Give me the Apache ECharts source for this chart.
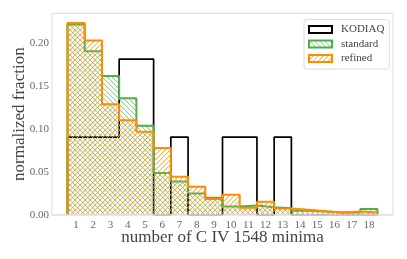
<!DOCTYPE html>
<html><head><meta charset="utf-8">
<script src="https://cdn.jsdelivr.net/npm/echarts@6/dist/echarts.min.js"></script>
<style>html,body{margin:0;padding:0;background:#fff}#c{width:407px;height:259px}</style>
</head><body><div id="c"></div>
<script>
// ---- data ----
const bins = [1,2,3,4,5,6,7,8,9,10,11,12,13,14,15,16,17,18];
const kodiaq   = [0.0909,0.0909,0.0909,0.1818,0.1818,0,0.0909,0,0,0.0909,0.0909,0,0.0909,0,0,0,0,0];
const standard = [0.222,0.191,0.162,0.136,0.104,0.049,0.039,0.025,0.020,0.010,0.011,0.009,0.008,0.005,0.004,0.003,0.003,0.007];
const refined  = [0.224,0.2035,0.129,0.1105,0.097,0.078,0.0446,0.033,0.0186,0.0236,0.0085,0.0155,0.0075,0.006,0.0045,0.003,0.004,0.003];
const yTicks = [0,0.05,0.10,0.15,0.20];

// ---- styles ----
const GREEN = '#4daf4a', ORANGE = '#ff8c00';
const FONT = 'Liberation Serif';
function hatch(rgb, dir, a1, a2){
  const N = 5;
  const c = document.createElement('canvas'); c.width = N; c.height = N;
  const g = c.getContext('2d');
  for (let i = 0; i < N; i++) {
    const x = dir === 'back' ? i : N - 1 - i;
    g.fillStyle = 'rgba(' + rgb + ',' + a1 + ')'; g.fillRect(x, i, 1, 1);
    g.fillStyle = 'rgba(' + rgb + ',' + a2 + ')'; g.fillRect((x + 1) % N, i, 1, 1);
  }
  return {image: c, repeat: 'repeat'};
}
const greenHatch = hatch('110,190,105', 'back', 0.75, 0.15);
const orangeHatch = hatch('255,150,30', 'fwd', 0.8, 0.2);

function steps(vals){
  const pts = [[bins[0]-0.5, 0]];
  vals.forEach((v,i)=>{ pts.push([bins[i]-0.5, v]); pts.push([bins[i]+0.5, v]); });
  pts.push([bins[bins.length-1]+0.5, 0]);
  return pts;
}
const lo = bins[0]-0.5, hi = bins[bins.length-1]+0.5, pad = (hi-lo)*0.05;
const ymax = Math.max(...kodiaq, ...standard, ...refined) * 1.05;

const chart = echarts.init(document.getElementById('c'), null, {renderer:'canvas'});
chart.setOption({
  animation: false,
  grid: {left: 52, right: 14, top: 13.3, bottom: 44, outerBoundsMode: 'none', containLabel: false,
         show: true, borderColor: '#e3e3e3', borderWidth: 1.2, backgroundColor: 'transparent'},
  legend: {
    orient: 'vertical', left: 304, top: 19.5, selectedMode: false,
    padding: [4.5, 5, 5, 4], borderColor: '#dddddd', borderWidth: 1, borderRadius: 3, backgroundColor: '#fff',
    itemWidth: 23, itemHeight: 7, itemGap: 3.5,
    textStyle: {fontFamily: FONT, fontSize: 11, color: '#444', padding: [0,0,0,4]},
    data: [
      {name: 'KODIAQ', icon: 'rect', itemStyle: {color: '#fff', borderColor: '#000', borderWidth: 2}},
      {name: 'standard', icon: 'rect', itemStyle: {color: greenHatch, borderColor: GREEN, borderWidth: 2}},
      {name: 'refined', icon: 'rect', itemStyle: {color: orangeHatch, borderColor: ORANGE, borderWidth: 2}}
    ]
  },
  xAxis: {
    type: 'value', min: lo - pad, max: hi + pad, z: 10,
    name: 'number of C IV 1548 minima', nameLocation: 'middle', nameGap: 14.5, nameMoveOverlap: false,
    nameTextStyle: {fontFamily: FONT, fontSize: 17, color: '#444'},
    axisLine: {show: true, lineStyle: {color: '#e3e3e3', width: 1.5}},
    axisTick: {show: false},
    splitLine: {show: false},
    axisLabel: {customValues: bins, fontFamily: FONT, fontSize: 11, color: '#666', margin: 5}
  },
  yAxis: {
    type: 'value', min: 0, max: ymax, interval: 0.05,
    name: 'normalized fraction', nameLocation: 'middle', nameGap: 24, nameMoveOverlap: false,
    nameTextStyle: {fontFamily: FONT, fontSize: 17, color: '#444'},
    axisLine: {show: false}, axisTick: {show: false}, splitLine: {show: false},
    axisLabel: {customValues: yTicks, formatter: v => v.toFixed(2), fontFamily: FONT, fontSize: 11, color: '#666', margin: 3}
  },
  series: [
    {name: 'KODIAQ', type: 'line', data: steps(kodiaq), symbol: 'none', silent: true, z: 2,
     itemStyle: {color: '#000'}, lineStyle: {color: '#000', width: 1.7}},
    {name: 'standard', type: 'line', data: steps(standard), symbol: 'none', silent: true, z: 3,
     itemStyle: {color: GREEN}, lineStyle: {color: GREEN, width: 2}, areaStyle: {color: greenHatch, opacity: 1}},
    {name: 'refined', type: 'line', data: steps(refined), symbol: 'none', silent: true, z: 4,
     itemStyle: {color: ORANGE}, lineStyle: {color: ORANGE, width: 2}, areaStyle: {color: orangeHatch, opacity: 1}}
  ]
});
</script></body></html>
